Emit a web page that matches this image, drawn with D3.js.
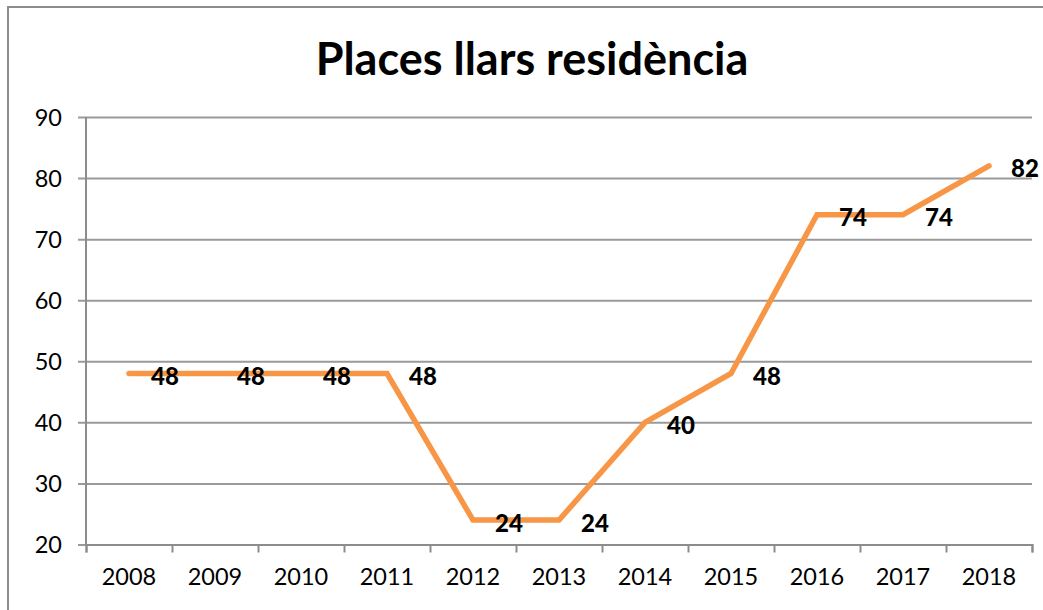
<!DOCTYPE html>
<html>
<head>
<meta charset="utf-8">
<script src="https://cdn.jsdelivr.net/npm/d3@7"></script>
<style>
  body { margin: 0; background: #fff; }
  svg text { font-family: Lato, "Open Sans", sans-serif; fill: #000; }
  .grid line { stroke: #9a9a9a; stroke-width: 2; }
  .grid .domain { display: none; }
  .axis-line { stroke: #8c8c8c; stroke-width: 2; }
</style>
</head>
<body>
<div class="chart"></div>
<script>
const years = ["2008", "2009", "2010", "2011", "2012", "2013", "2014", "2015", "2016", "2017", "2018"];
const places = [48, 48, 48, 48, 24, 24, 40, 48, 74, 74, 82];
const yTicks = [20, 30, 40, 50, 60, 70, 80, 90];
const title = "Places llars residència";

const width = 1043, height = 610;
const plotLeft = 86, plotRight = 1032, plotTop = 117, plotBottom = 544.5;

const svg = d3.select(".chart").append("svg")
    .attr("width", width)
    .attr("height", height);

// chart frame
svg.append("rect")
    .attr("x", 8).attr("y", 7)
    .attr("width", 1060).attr("height", 620)
    .attr("fill", "#fff")
    .attr("stroke", "#8c8c8c")
    .attr("stroke-width", 2);

const x = d3.scaleBand()
    .domain(years)
    .range([plotLeft, plotRight]);

const y = d3.scaleLinear()
    .domain([20, 90])
    .range([plotBottom, plotTop]);

// gridlines
const grid = svg.append("g")
    .classed("grid", true)
    .attr("transform", `translate(${plotLeft},0)`)
    .call(d3.axisLeft(y).tickValues(yTicks).tickSize(-(plotRight - plotLeft)).tickFormat(""));
grid.selectAll("line").attr("x1", -8);

// y labels
svg.append("g")
    .attr("transform", `translate(${plotLeft},0)`)
    .call(d3.axisLeft(y).tickValues(yTicks).tickSize(0).tickPadding(24))
    .call(g => g.select(".domain").remove())
    .selectAll("text")
    .style("font-size", "23.5px")
    .attr("dy", "0.36em");

// y axis line
svg.append("line").classed("axis-line", true)
    .attr("x1", plotLeft).attr("x2", plotLeft)
    .attr("y1", plotTop).attr("y2", plotBottom);

// x axis: tick marks at category boundaries
const xb = d3.scaleLinear().domain([0, years.length]).range([plotLeft, plotRight]);
svg.append("g")
    .attr("transform", `translate(0,${plotBottom})`)
    .call(d3.axisBottom(xb).ticks(years.length).tickSize(8).tickFormat(""))
    .call(g => g.selectAll("line").attr("stroke", "#8c8c8c").attr("stroke-width", 2))
    .call(g => g.select(".domain").attr("stroke", "#8c8c8c").attr("stroke-width", 2));

svg.append("g")
    .attr("transform", `translate(0,${plotBottom})`)
    .call(d3.axisBottom(x).tickSize(0).tickPadding(24))
    .call(g => g.select(".domain").remove())
    .selectAll("text")
    .style("font-size", "23.5px")
    .attr("dy", "0.71em");

// line
const cx = d => x(d) + x.bandwidth() / 2;
const line = d3.line()
    .x((d, i) => cx(years[i]))
    .y(d => y(d));

svg.append("path")
    .datum(places)
    .attr("fill", "none")
    .attr("stroke", "#f79646")
    .attr("stroke-width", 5.5)
    .attr("stroke-linecap", "round")
    .attr("stroke-linejoin", "miter")
    .attr("d", line);

// data labels
svg.append("g")
    .selectAll("text")
    .data(places)
    .enter()
    .append("text")
    .text(d => d)
    .attr("x", (d, i) => cx(years[i]) + 22)
    .attr("y", d => y(d) + 3)
    .attr("dy", "0.36em")
    .style("font-size", "24px")
    .style("font-weight", "900");

svg.append("text")
    .text(title)
    .attr("x", 532)
    .attr("y", 75)
    .style("text-anchor", "middle")
    .style("font-size", "45px")
    .style("font-weight", "bold");
</script>
</body>
</html>
